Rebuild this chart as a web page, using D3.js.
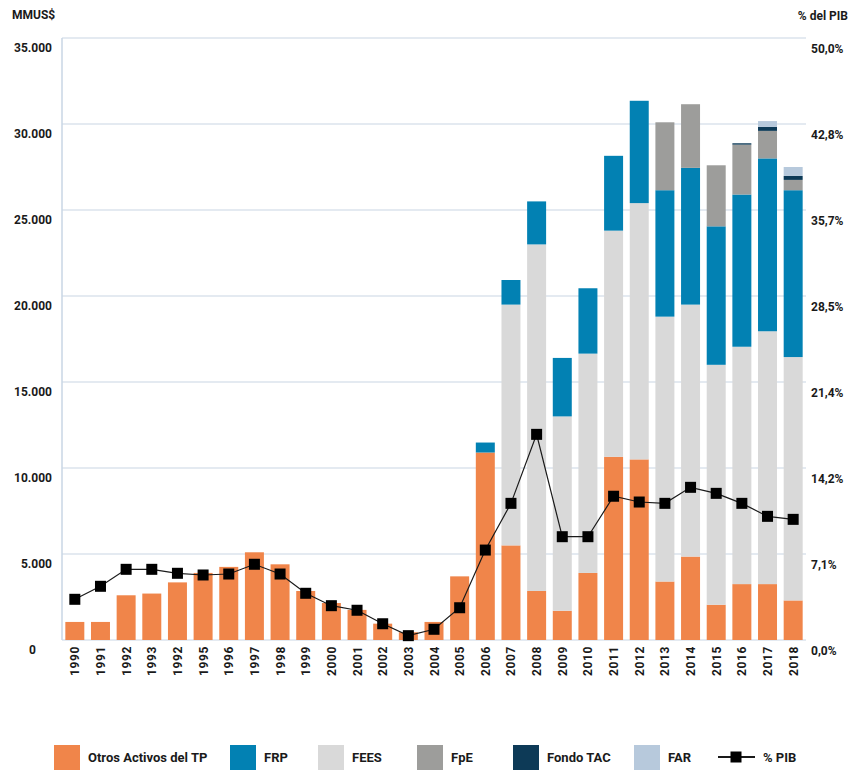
<!DOCTYPE html>
<html><head><meta charset="utf-8">
<script src="https://cdn.jsdelivr.net/npm/d3@7"></script>
<style>
body{margin:0;background:#fff;}
svg text{font-family:Roboto,"Noto Sans",sans-serif;font-weight:bold;fill:#1a1a1a;}
</style></head>
<body><svg id="c" width="852" height="772"></svg>
<script>
const years = ["1990","1991","1992","1993","1992","1995","1996","1997","1998","1999","2000","2001","2002","2003","2004","2005","2006","2007","2008","2009","2010","2011","2012","2013","2014","2015","2016","2017","2018"];
const otros = [1050,1050,2600,2700,3350,3900,4250,5100,4400,2850,2150,1750,950,450,1050,3700,10900,5500,2850,1700,3900,10650,10500,3400,4850,2050,3250,3250,2300];
const fees  = [0,0,0,0,0,0,0,0,0,0,0,0,0,0,0,0,0,14000,20150,11300,12750,13150,14900,15400,14650,13950,13800,14700,14150];
const frp   = [0,0,0,0,0,0,0,0,0,0,0,0,0,0,0,0,580,1430,2500,3400,3800,4350,5950,7350,7950,8050,8850,10050,9700];
const fpe   = [0,0,0,0,0,0,0,0,0,0,0,0,0,0,0,0,0,0,0,0,0,0,0,3950,3700,3550,2900,1600,600];
const tac   = [0,0,0,0,0,0,0,0,0,0,0,0,0,0,0,0,0,0,0,0,0,0,0,0,0,0,80,230,230];
const far   = [0,0,0,0,0,0,0,0,0,0,0,0,0,0,0,0,0,0,0,0,0,0,0,0,0,0,0,340,520];
const pib   = [3.38,4.46,5.87,5.87,5.54,5.40,5.48,6.29,5.48,3.88,2.85,2.47,1.35,0.36,0.89,2.68,7.47,11.35,17.08,8.58,8.58,11.94,11.46,11.35,12.68,12.18,11.35,10.27,10.02];
const leftTicks = [0,5000,10000,15000,20000,25000,30000,35000];
const leftTickLabels = ["0","5.000","10.000","15.000","20.000","25.000","30.000","35.000"];
const rightTickLabels = ["0,0%","7,1%","14,2%","21,4%","28,5%","35,7%","42,8%","50,0%"];
const seriesNames = ["Otros Activos del TP","FRP","FEES","FpE","Fondo TAC","FAR"];
const seriesKeys = ["otros","frp","fees","fpe","tac","far"];
const colors = {otros:"#f0854a",frp:"#0281b3",fees:"#d9d9d9",fpe:"#9d9d9b",tac:"#0d3a57",far:"#b7c9dc"};

const svg = d3.select("#c");
const x = d3.scaleBand().domain(d3.range(years.length)).range([62,806]).paddingInner(0.26).paddingOuter(0.13);
const y = d3.scaleLinear().domain([0,35000]).range([640,38]);
const yp = d3.scaleLinear().domain([0,50]).range([640,38]);

// gridlines
svg.append("g").selectAll("line").data(leftTicks).join("line")
  .attr("x1",62).attr("x2",806).attr("y1",d=>y(d)).attr("y2",d=>y(d))
  .attr("stroke","#dbe3ed").attr("stroke-width",1.5);
svg.append("line").attr("x1",62).attr("x2",62).attr("y1",y(35000)).attr("y2",y(0))
  .attr("stroke","#c9d6e5").attr("stroke-width",1.5);

// stacked bars (stack order bottom->top)
const rows = years.map((yr,i)=>({i,otros:otros[i],fees:fees[i],frp:frp[i],fpe:fpe[i],tac:tac[i],far:far[i]}));
const stackOrder = ["otros","fees","frp","fpe","tac","far"];
const stack = d3.stack().keys(stackOrder)(rows);
svg.append("g").selectAll("g").data(stack).join("g").attr("fill",d=>colors[d.key])
  .selectAll("rect").data(d=>d.filter(s=>s[1]-s[0]>0)).join("rect")
  .attr("x",d=>x(d.data.i)).attr("width",x.bandwidth())
  .attr("y",d=>y(d[1])).attr("height",d=>y(d[0])-y(d[1]));

// line
const line = d3.line().x((d,i)=>x(i)+x.bandwidth()/2).y(d=>yp(d));
svg.append("path").datum(pib).attr("d",line).attr("fill","none").attr("stroke","#1a1a1a").attr("stroke-width",1.2);
svg.append("g").selectAll("rect").data(pib).join("rect")
  .attr("x",(d,i)=>x(i)+x.bandwidth()/2-5.5).attr("y",d=>yp(d)-5.5)
  .attr("width",11).attr("height",11).attr("fill","#000");

// left axis labels
const la = svg.append("g").attr("transform","translate(52,0)")
  .call(d3.axisLeft(y).tickValues(leftTicks).tickSize(0).tickPadding(0).tickFormat((d,i)=>leftTickLabels[i]));
la.select(".domain").remove();
la.selectAll("text").attr("font-size",12).attr("dy",null).attr("y",13).style("font-family","Roboto").style("font-weight","bold").attr("fill","#1a1a1a");
la.selectAll(".tick").filter(d=>d===0).select("text").attr("x",-16);

// right axis labels
const ra = svg.append("g").attr("transform","translate(811,0)")
  .call(d3.axisRight(yp).tickValues(leftTicks.map(v=>v/700)).tickSize(0).tickPadding(0).tickFormat((d,i)=>rightTickLabels[i]));
ra.select(".domain").remove();
ra.selectAll("text").attr("font-size",12).attr("dy",null).attr("y",14.5).style("font-family","Roboto").style("font-weight","bold").attr("fill","#1a1a1a");

// axis titles
svg.append("text").attr("x",12).attr("y",18.5).attr("font-size",12).text("MMUS$");
svg.append("text").attr("x",848).attr("y",19.5).attr("font-size",12).attr("text-anchor","end").text("% del PIB");

// x labels
svg.append("g").selectAll("text").data(years).join("text")
  .attr("transform",(d,i)=>`translate(${x(i)+x.bandwidth()/2+4.5},646) rotate(-90)`)
  .attr("text-anchor","end").attr("font-size",12).attr("letter-spacing",0.6).text(d=>d);

// legend
const legX = [54,230,318,417,513,634];
const lg = svg.append("g");
seriesKeys.forEach((k,i)=>{
  lg.append("rect").attr("x",legX[i]).attr("y",745).attr("width",26).attr("height",25).attr("fill",colors[k]);
  lg.append("text").attr("x",legX[i]+34).attr("y",762).attr("font-size",13).text(seriesNames[i]);
});
lg.append("line").attr("x1",718).attr("x2",755).attr("y1",757).attr("y2",757).attr("stroke","#1a1a1a").attr("stroke-width",2);
lg.append("rect").attr("x",730.5).attr("y",751.5).attr("width",11).attr("height",11).attr("fill","#000");
lg.append("text").attr("x",763).attr("y",762).attr("font-size",13).text("% PIB");
</script></body></html>
